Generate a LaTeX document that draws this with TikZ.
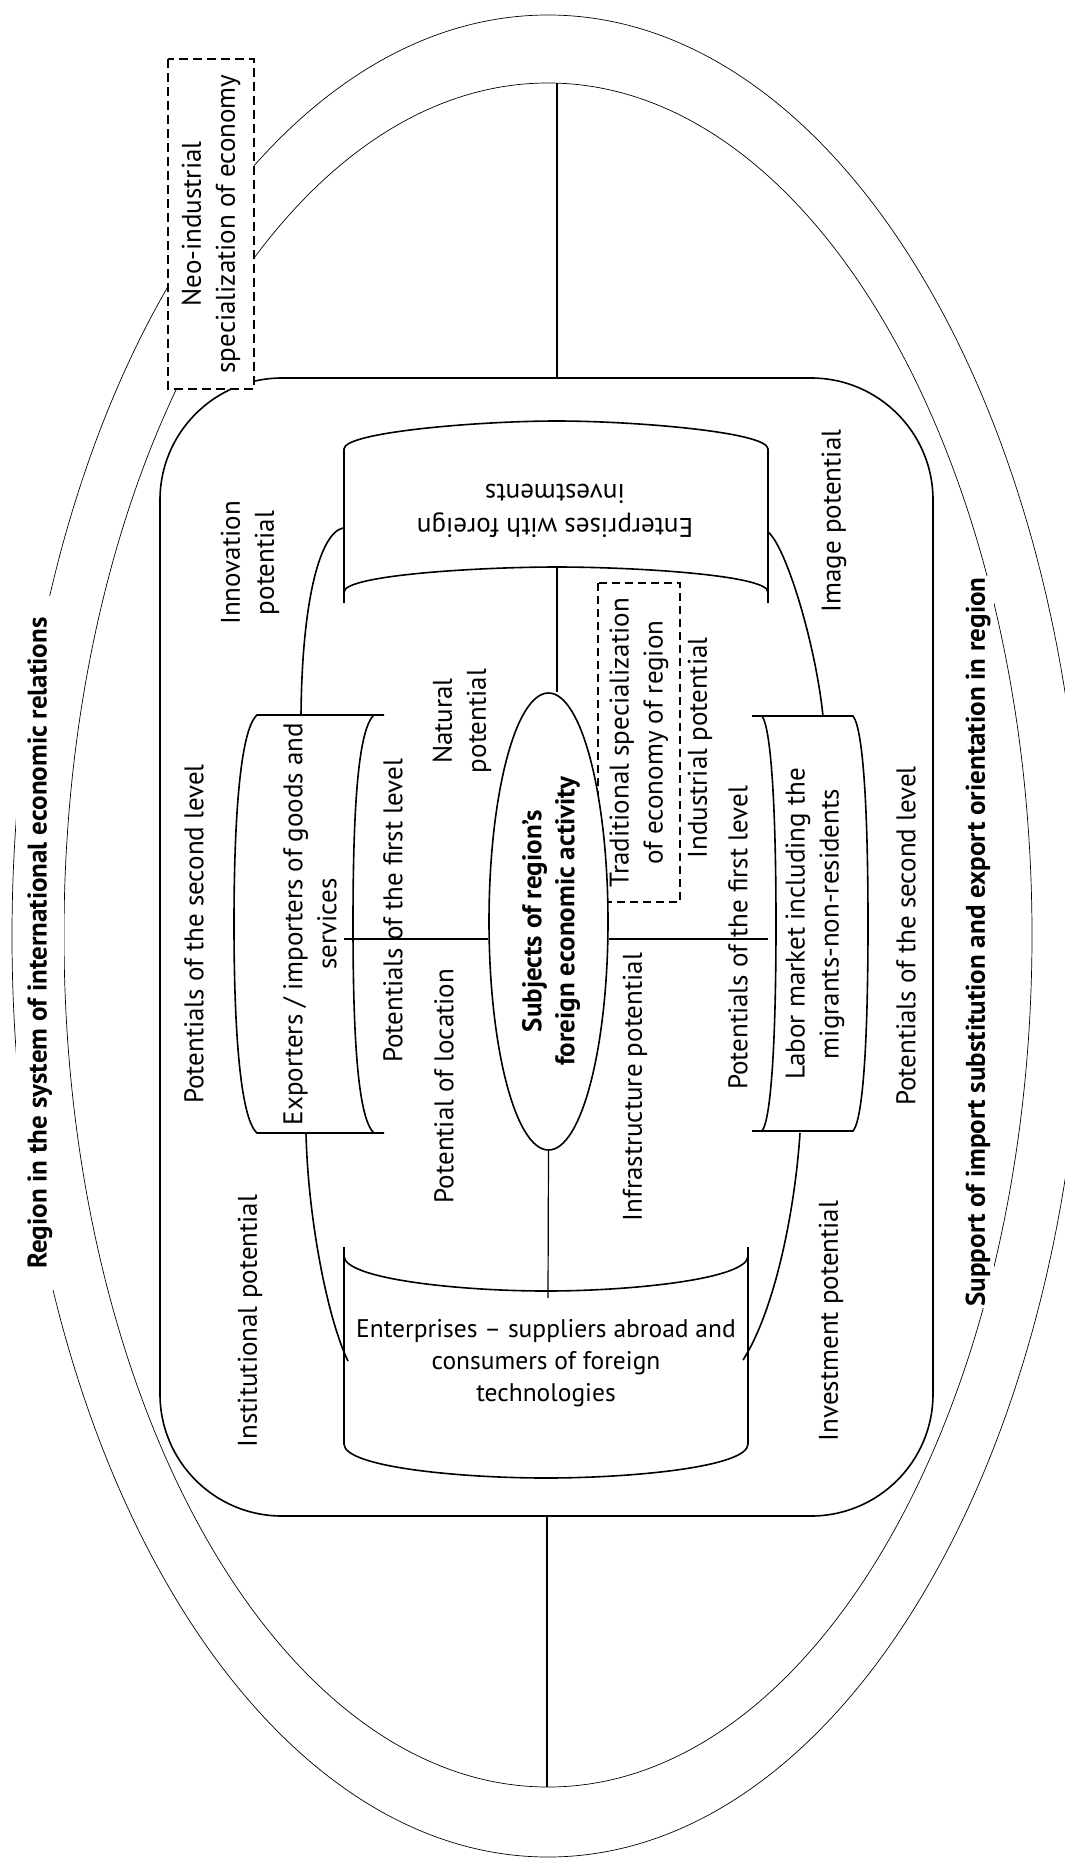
\documentclass[tikz,border=0pt]{standalone}
\usepackage{fontspec}
\setmainfont{PT Sans}
\usetikzlibrary{shapes.geometric,calc}
\begin{document}
\begin{tikzpicture}[x=1pt,y=-1pt,
  thinline/.style={line width=0.7pt},
  thickline/.style={line width=1.6pt},
  midline/.style={line width=1.2pt},
  txt/.style={align=center, font=\fontsize{27}{34}\selectfont, inner sep=0pt},
  lbl/.style={txt, rotate=90},
  boldlbl/.style={lbl, font=\fontsize{27}{33}\selectfont\bfseries},
  dashbox/.style={draw, line width=1.4pt, dash pattern=on 9pt off 5pt, fill=white},
]
\useasboundingbox (0,0) rectangle (1065,1858);
\fill[white] (0,0) rectangle (1065,1858);

% outer rings
\draw[thinline] (548,936) ellipse [x radius=536pt, y radius=921pt];
\draw[thinline] (548,935) ellipse [x radius=484pt, y radius=852pt];

\node[boldlbl, fill=white, inner xsep=21pt, inner ysep=12pt] (region) at (40,943)
  {Region in the system of international economic relations};
\node[boldlbl, fill=white, inner xsep=2pt, inner ysep=3pt] (support) at (978,942)
  {Support of import substitution and export orientation in region};

% axis lines between rings and frame
\coordinate (itop) at (557,83.2);
\coordinate (ibot) at (547,1786.8);
\coordinate (rtop) at (557,378);
\coordinate (rbot) at (547,1516);
\draw[midline] (itop) -- (rtop);
\draw[midline] (rbot) -- (ibot);

% frame
\draw[thickline, rounded corners=122pt, fill=white] (160,378) rectangle (933,1516);

% neo-industrial box
\node[dashbox, lbl, minimum width=330pt, minimum height=86pt] (neo) at (211,224)
  {Neo-industrial\\specialization of economy};

% top drum
\draw[thickline] (344,603) -- (344,449) .. controls (344,432) and (480,421) .. (557,421)
  .. controls (634,421) and (768,432) .. (768,449) -- (768,603);
\draw[thickline] (344,592) .. controls (344,575) and (480,567) .. (557,567)
  .. controls (634,567) and (768,575) .. (768,592);
\node[txt, rotate=180] (topdrum) at (555,511) {Enterprises with foreign\\investments};

% bottom drum
\draw[thickline] (344,1247) -- (344,1444) .. controls (344,1467) and (460,1478) .. (546,1478)
  .. controls (632,1478) and (748,1467) .. (748,1444) -- (748,1247);
\draw[thickline] (344,1256) .. controls (344,1279) and (460,1291) .. (546,1291)
  .. controls (632,1291) and (748,1279) .. (748,1256);
\node[txt, font=\fontsize{25.5}{32}\selectfont] (botdrum) at (546,1363)
  {Enterprises – suppliers abroad and\\consumers of foreign\\technologies};

% left drum
\draw[thickline] (384,715) -- (257,715) .. controls (240,730) and (234,820) .. (234,924)
  .. controls (234,1028) and (240,1118) .. (257,1133) -- (384,1133);
\draw[thickline] (374,715) .. controls (357,730) and (353,820) .. (353,924)
  .. controls (353,1028) and (357,1118) .. (374,1133);
\node[lbl] (leftdrum) at (310,924) {Exporters / importers of goods and\\services};

% right drum
\draw[thickline] (752,716) -- (853,716) .. controls (864,730) and (868,820) .. (868,924)
  .. controls (868,1028) and (864,1118) .. (853,1131) -- (752,1131);
\draw[thickline] (762,716) .. controls (772,730) and (776,820) .. (776,924)
  .. controls (776,1028) and (772,1118) .. (762,1131);
\node[lbl] (rightdrum) at (815,924) {Labor market including the\\migrants-non-residents};

% second-level ring curves
\coordinate (tcL) at (343,528); \coordinate (lcT) at (301,715);
\coordinate (lcB) at (306,1133); \coordinate (bcL) at (348,1361);
\coordinate (tcR) at (768,532); \coordinate (rcT) at (823,716);
\coordinate (rcB) at (800,1133); \coordinate (bcR) at (743,1360);
\draw[thickline] (tcL) .. controls (320,533) and (302,600) .. (lcT);
\draw[thickline] (lcB) .. controls (308,1220) and (328,1320) .. (bcL);
\draw[thickline] (tcR) .. controls (785,545) and (815,640) .. (rcT);
\draw[thickline] (rcB) .. controls (795,1210) and (775,1310) .. (bcR);

% traditional specialization box
\node[dashbox, lbl, line width=1.2pt, dash pattern=on 8pt off 5pt, minimum width=319pt, minimum height=82pt] (trad) at (639,742.5)
  {Traditional specialization\\of economy of region};

% potential labels
\node[lbl] (p2L) at (194,934) {Potentials of the second level};
\node[lbl] (p2R) at (906,936) {Potentials of the second level};
\node[lbl] (p1L) at (393,911) {Potentials of the first level};
\node[lbl] (p1R) at (738,938) {Potentials of the first level};
\node[lbl] (innov) at (250,563) {Innovation\\potential};
\node[lbl] (natural) at (462,721) {Natural\\potential};
\node[lbl] (location) at (444,1086) {Potential of location};
\node[lbl] (instit) at (250,1321) {Institutional potential};
\node[lbl] (infra) at (635,1087) {Infrastructure potential};
\node[lbl] (indus) at (700,748) {Industrial potential};
\node[lbl] (image) at (834,521) {Image potential};
\node[lbl] (invest) at (831,1321) {Investment potential};

% centre
\node[draw, thickline, ellipse, fill=white, minimum width=119pt, minimum height=457pt, inner sep=0pt] (subj) at (548.5,921.5) {};
\node[boldlbl] (subjtext) at (551,921) {Subjects of region’s\\foreign economic activity};

\coordinate (lin) at (344,939);
\coordinate (rin) at (768,939);
\coordinate (tin) at (557,567);
\coordinate (bin) at (548,1298);
\draw[midline] (lin) -- (lin -| subj.west);
\draw[midline] (rin -| subj.east) -- (rin);
\draw[midline] (tin) -- (tin |- subj.north);
\draw[midline] (subj.south) -- (bin);
\end{tikzpicture}
\end{document}
